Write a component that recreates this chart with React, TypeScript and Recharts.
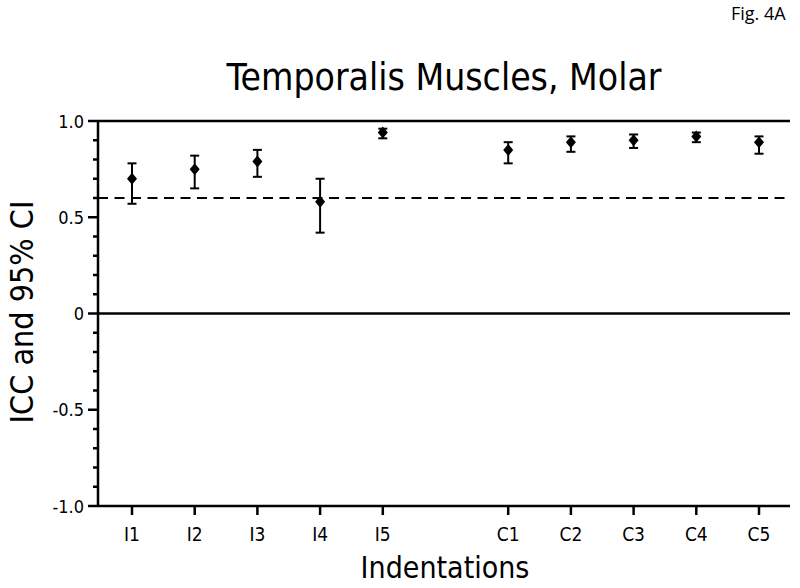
import {
  ComposedChart,
  ErrorBar,
  Line,
  ReferenceLine,
  XAxis,
  YAxis,
} from "recharts";

const categories = ["I1", "I2", "I3", "I4", "I5", "", "C1", "C2", "C3", "C4", "C5"];
const icc = [0.7, 0.75, 0.79, 0.58, 0.94, null, 0.85, 0.89, 0.9, 0.92, 0.89];
const ciLow = [0.57, 0.65, 0.71, 0.42, 0.91, null, 0.78, 0.84, 0.86, 0.89, 0.83];
const ciHigh = [0.78, 0.82, 0.85, 0.7, 0.96, null, 0.89, 0.92, 0.93, 0.94, 0.92];
const yTicks = [
  -1, -0.9, -0.8, -0.7, -0.6, -0.5, -0.4, -0.3, -0.2, -0.1, 0,
  0.1, 0.2, 0.3, 0.4, 0.5, 0.6, 0.7, 0.8, 0.9, 1,
];
const threshold = 0.6;

const data = categories.map((c, i) => ({
  name: c,
  icc: icc[i],
  err: icc[i] == null ? null : [icc[i]! - ciLow[i]!, ciHigh[i]! - icc[i]!],
}));

const FONT = '"DejaVu Sans Condensed", "DejaVu Sans", sans-serif';

function Diamond(props: any) {
  const { cx, cy, payload } = props;
  if (payload.icc == null || cx == null || cy == null) return <g />;
  return (
    <polygon
      points={`${cx},${cy - 6} ${cx + 5},${cy} ${cx},${cy + 6} ${cx - 5},${cy}`}
      fill="#000"
    />
  );
}

function YTick(props: any) {
  const { x, y, payload } = props;
  const v = payload.value as number;
  const major = Math.abs(v * 2 - Math.round(v * 2)) < 1e-6;
  const label = v === 0 ? "0" : v.toFixed(1);
  return (
    <g>
      <line x1={x - (major ? 10 : 5)} x2={x} y1={y} y2={y} stroke="#000" strokeWidth={2.5} />
      {major && (
        <text x={x - 14} y={y} textAnchor="end" dominantBaseline="central" fontSize={18} fontFamily={FONT} fill="#000">
          {label}
        </text>
      )}
    </g>
  );
}

function XTick(props: any) {
  const { x, y, payload } = props;
  if (!payload.value) return <g />;
  return (
    <g>
      <line x1={x} x2={x} y1={y} y2={y + 9} stroke="#000" strokeWidth={2.5} />
      <text x={x} y={y + 35} textAnchor="middle" fontSize={19} fontFamily={FONT} fill="#000">
        {payload.value}
      </text>
    </g>
  );
}

export default function App() {
  return (
    <div style={{ position: "absolute", left: 0, top: 0, width: 800, height: 588, background: "#fff" }}>
      <div style={{ position: "absolute", left: 731, top: 1, fontFamily: '"Open Sans", sans-serif', fontSize: 18, color: "#000" }}>
        Fig. 4A
      </div>
      <div
        style={{
          position: "absolute",
          left: 444,
          top: 77,
          transform: "translate(-50%, -50%)",
          fontFamily: FONT,
          fontSize: 37,
          whiteSpace: "nowrap",
          color: "#000",
        }}
      >
        Temporalis Muscles, Molar
      </div>
      <div
        style={{
          position: "absolute",
          left: 22,
          top: 312,
          transform: "translate(-50%, -50%) rotate(-90deg)",
          fontFamily: FONT,
          fontSize: 32,
          whiteSpace: "nowrap",
          color: "#000",
        }}
      >
        ICC and 95% CI
      </div>
      <div
        style={{
          position: "absolute",
          left: 445,
          top: 567,
          transform: "translate(-50%, -50%)",
          fontFamily: FONT,
          fontSize: 30,
          whiteSpace: "nowrap",
          color: "#000",
        }}
      >
        Indentations
      </div>
      <ComposedChart
        width={800}
        height={588}
        data={data}
        margin={{ top: 121, right: 10, bottom: 0, left: 0 }}
        style={{ position: "absolute", left: 0, top: 0 }}
      >
        <XAxis
          dataKey="name"
          type="category"
          height={82}
          padding={{ left: 34, right: 31 }}
          axisLine={{ stroke: "#000", strokeWidth: 2.5 }}
          tickLine={false}
          tickSize={0}
          tickMargin={0}
          tick={<XTick />}
          interval={0}
        />
        <YAxis
          yAxisId="left"
          domain={[-1, 1]}
          ticks={yTicks}
          width={98}
          axisLine={{ stroke: "#000", strokeWidth: 2.5 }}
          tickLine={false}
          tickSize={0}
          tickMargin={0}
          tick={<YTick />}
          interval={0}
          allowDataOverflow
        />
        <YAxis
          yAxisId="right"
          orientation="right"
          domain={[-1, 1]}
          width={0}
          tick={false}
          tickLine={false}
          axisLine={{ stroke: "#000", strokeWidth: 2.5 }}
        />
        <ReferenceLine yAxisId="left" y={1} stroke="#000" strokeWidth={2.5} />
        <ReferenceLine yAxisId="left" y={0} stroke="#000" strokeWidth={2.5} />
        <ReferenceLine yAxisId="left" y={threshold} stroke="#000" strokeWidth={2} strokeDasharray="10 6.5" />
        <Line
          yAxisId="left"
          dataKey="icc"
          stroke="none"
          dot={<Diamond />}
          activeDot={false}
          isAnimationActive={false}
        >
          <ErrorBar dataKey="err" direction="y" width={4.5} stroke="#000" strokeWidth={2} />
        </Line>
      </ComposedChart>
    </div>
  );
}
